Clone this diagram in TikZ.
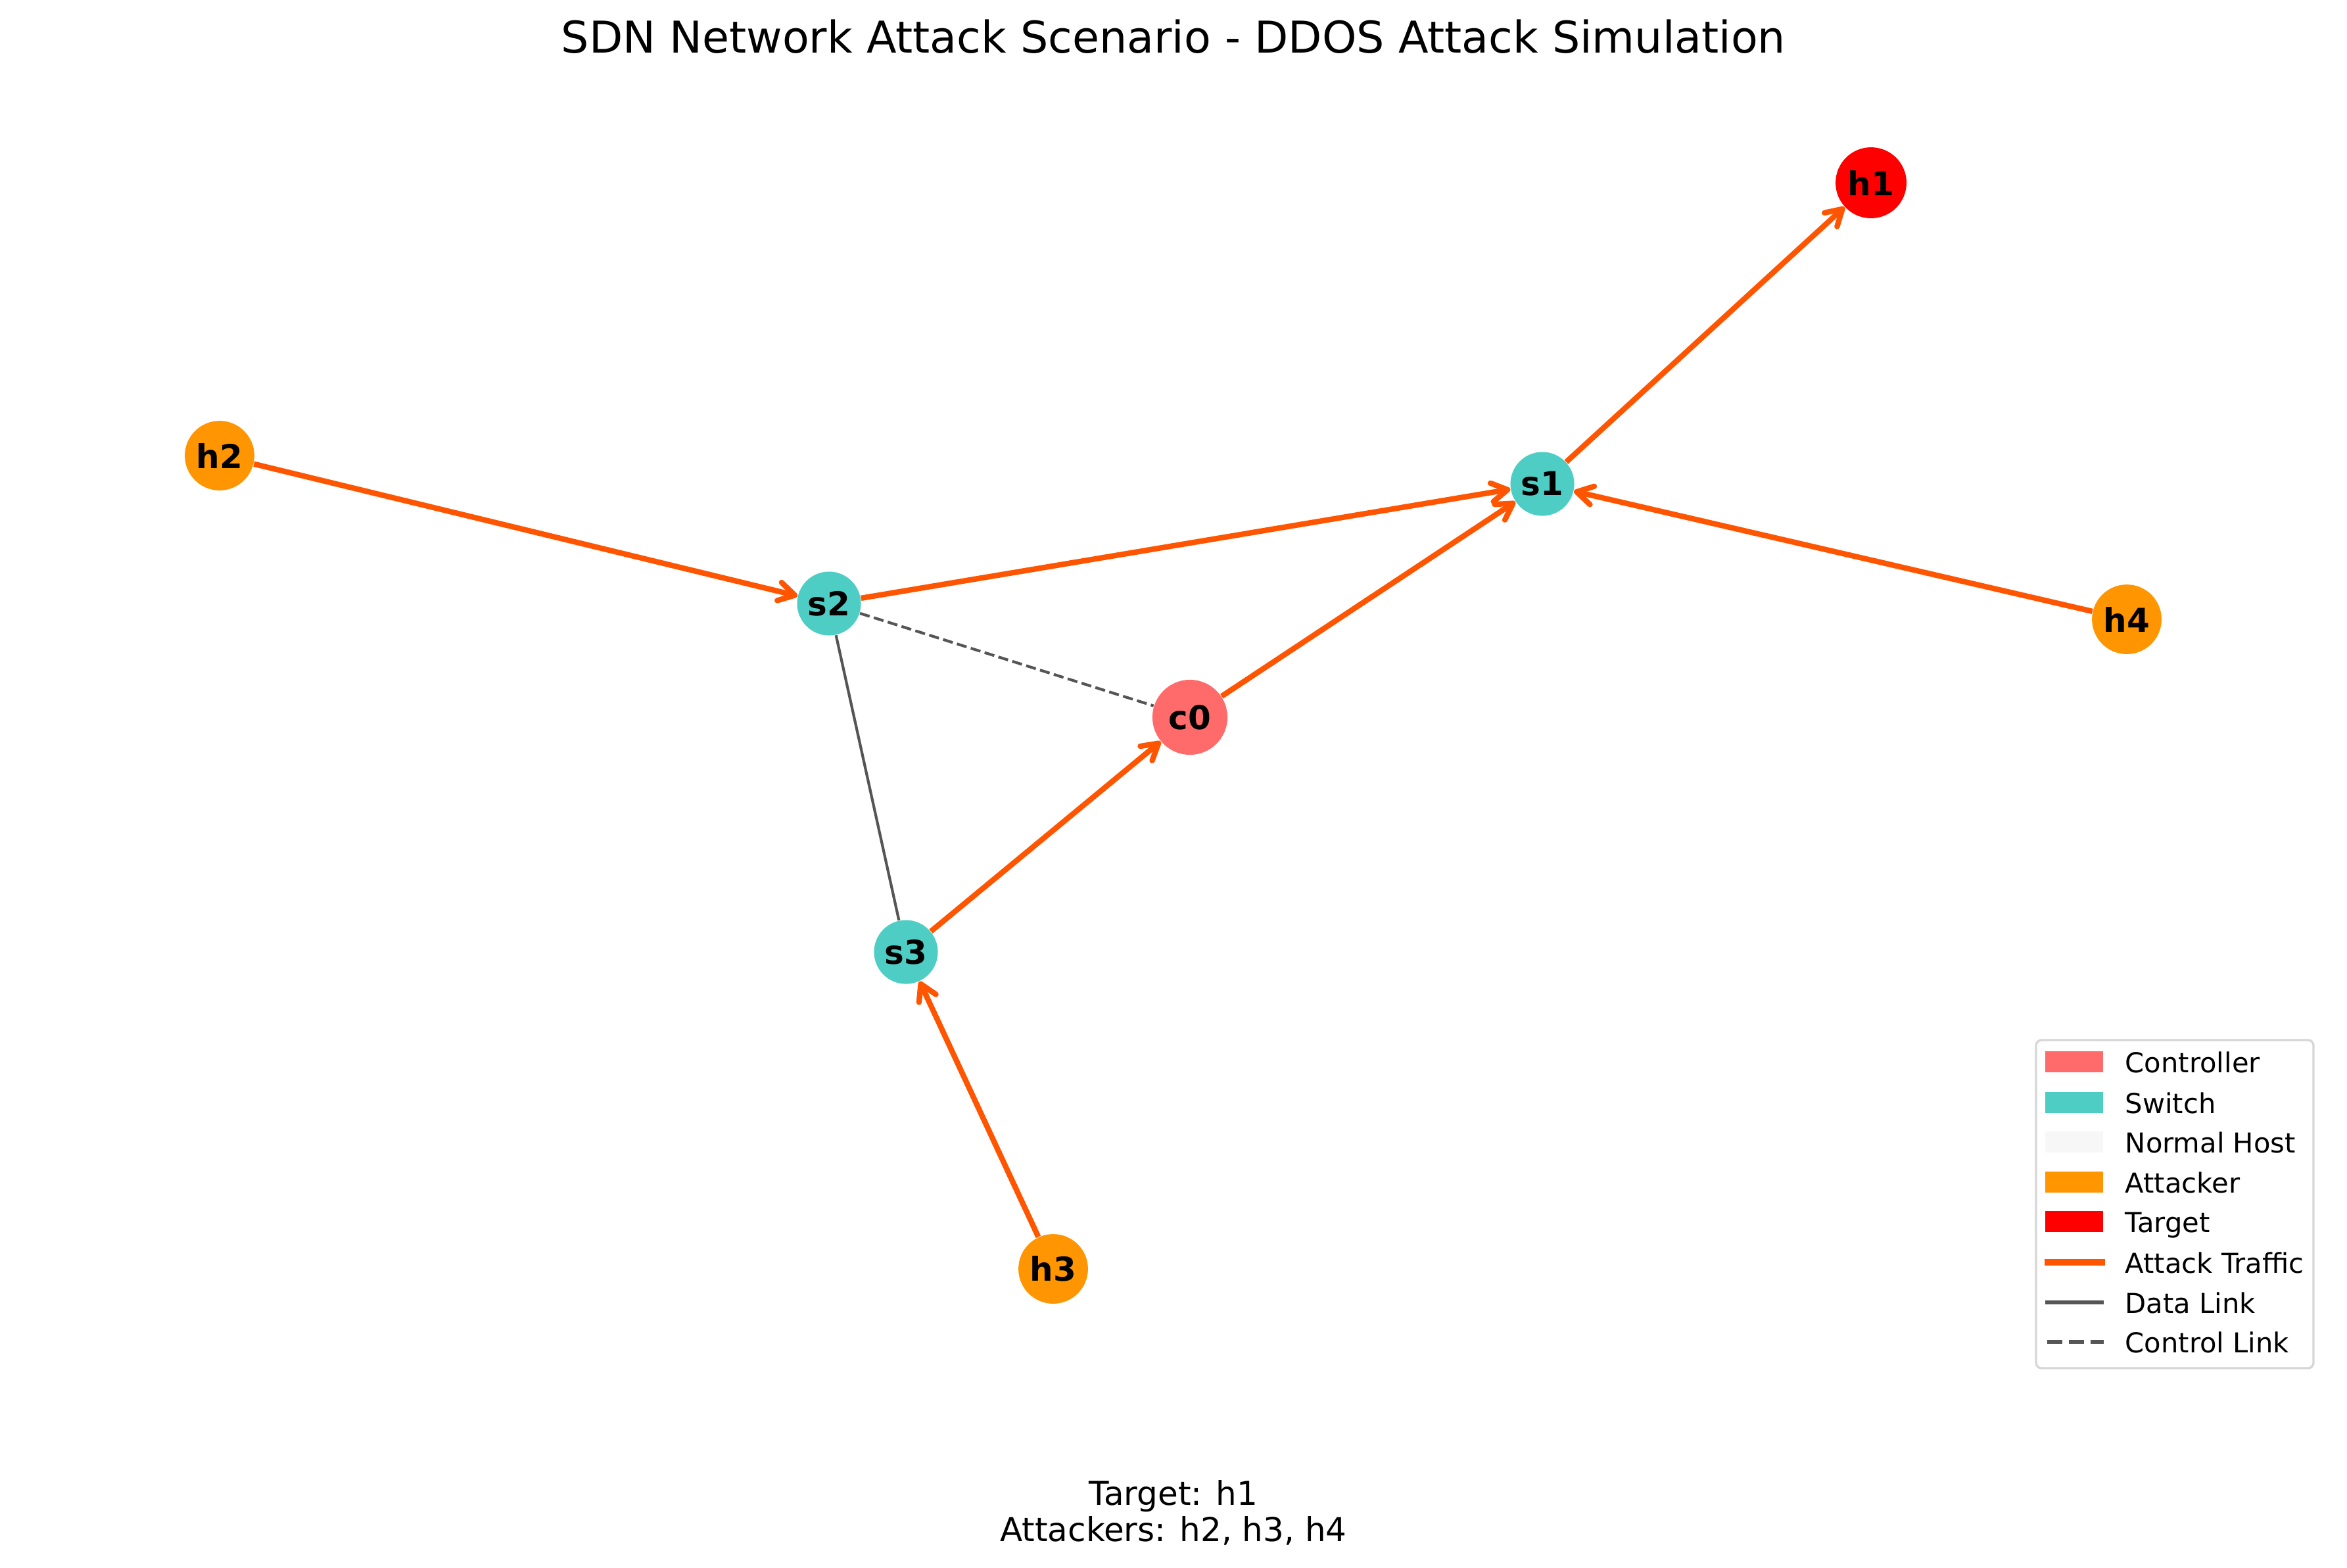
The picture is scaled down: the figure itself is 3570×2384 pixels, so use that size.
\documentclass[tikz,border=0pt]{standalone}
\usepackage{fontspec}
\setmainfont{DejaVu Sans}
\usepackage{xcolor}
\usetikzlibrary{arrows.meta}

\definecolor{ctrlcol}{HTML}{FF6B6B}
\definecolor{switchcol}{HTML}{4ECDC4}
\definecolor{hostcol}{HTML}{F7F7F7}
\definecolor{attackercol}{HTML}{FF9500}
\definecolor{targetcol}{HTML}{FF0000}
\definecolor{trafficcol}{HTML}{FF5500}
\definecolor{linkcol}{HTML}{555555}

\tikzset{
  vertex/.style={shape=circle, inner sep=0pt, font=\bfseries\fontsize{12}{14}\selectfont},
  controller/.style={vertex, fill=ctrlcol, minimum size=27.4pt},
  switch/.style={vertex, fill=switchcol, minimum size=23.3pt},
  attacker/.style={vertex, fill=attackercol, minimum size=25.4pt},
  target/.style={vertex, fill=targetcol, minimum size=25.9pt},
  attack/.style={draw=trafficcol, line width=2pt,
    -{Straight Barb[length=5.8pt,width=6.8pt,round]}},
  datalink/.style={draw=linkcol, line width=1pt},
  ctrllink/.style={draw=linkcol, line width=1pt, dash pattern=on 3.7pt off 1.6pt},
  swatch/.style={inner sep=0pt, minimum width=20.9pt, minimum height=7.9pt},
  legtext/.style={anchor=base west, inner sep=0pt, font=\fontsize{10}{12}\selectfont}
}

\begin{document}
\begin{tikzpicture}[x=0.24pt, y=-0.24pt]
  \useasboundingbox (0,0) rectangle (3570,2384);

  % title
  \node[anchor=base, font=\fontsize{16}{19}\selectfont] (title) at (1785,80)
    {SDN Network Attack Scenario - DDOS Attack Simulation};

  % vertices
  \node[target] (h1) at (2846,278) {h1};
  \node[attacker] (h2) at (334,693) {h2};
  \node[switch] (s1) at (2346,736) {s1};
  \node[switch] (s2) at (1261,918) {s2};
  \node[attacker] (h4) at (3235,942) {h4};
  \node[controller] (c0) at (1810,1091) {c0};
  \node[switch] (s3) at (1378,1448) {s3};
  \node[attacker] (h3) at (1602,1930) {h3};

  % links
  \path[datalink] (s2) edge (s3);
  \path[ctrllink] (s2) edge (c0);

  % attack traffic
  \path[attack] (h2) edge (s2);
  \path[attack] (s2) edge (s1);
  \path[attack] (c0) edge (s1);
  \path[attack] (h4) edge (s1);
  \path[attack] (s1) edge (h1);
  \path[attack] (s3) edge (c0);
  \path[attack] (h3) edge (s3);

  % legend
  \draw[draw=black!16, line width=0.8pt, fill=white, rounded corners=2pt]
    (3097,1582) rectangle (3519,2081);
  \node[swatch, fill=ctrlcol] (kctrl) at (3155,1615) {};
  \node[legtext] at (3232,1631) {Controller};
  \node[swatch, fill=switchcol] (kswitch) at (3155,1677) {};
  \node[legtext] at (3232,1693) {Switch};
  \node[swatch, fill=hostcol] (khost) at (3155,1737) {};
  \node[legtext] at (3232,1753) {Normal Host};
  \node[swatch, fill=attackercol] (kattacker) at (3155,1798) {};
  \node[legtext] at (3232,1814) {Attacker};
  \node[swatch, fill=targetcol] (ktarget) at (3155,1858) {};
  \node[legtext] at (3232,1874) {Target};
  \draw[draw=trafficcol, line width=2.4pt] (3110,1920) -- (3202,1920);
  \node[legtext] at (3232,1936) {Attack Traffic};
  \draw[draw=linkcol, line width=1.5pt] (3111,1981) -- (3200,1981);
  \node[legtext] at (3232,1997) {Data Link};
  \draw[draw=linkcol, line width=1.5pt, dash pattern=on 5.55pt off 2.4pt] (3114,2041) -- (3200,2041);
  \node[legtext] at (3232,2057) {Control Link};

  % summary
  \node[anchor=base, font=\fontsize{12}{14}\selectfont] (summary) at (1785,2289) {Target: h1};
  \node[anchor=base, font=\fontsize{12}{14}\selectfont] (attackers) at (1785,2344) {Attackers: h2, h3, h4};
\end{tikzpicture}
\end{document}
